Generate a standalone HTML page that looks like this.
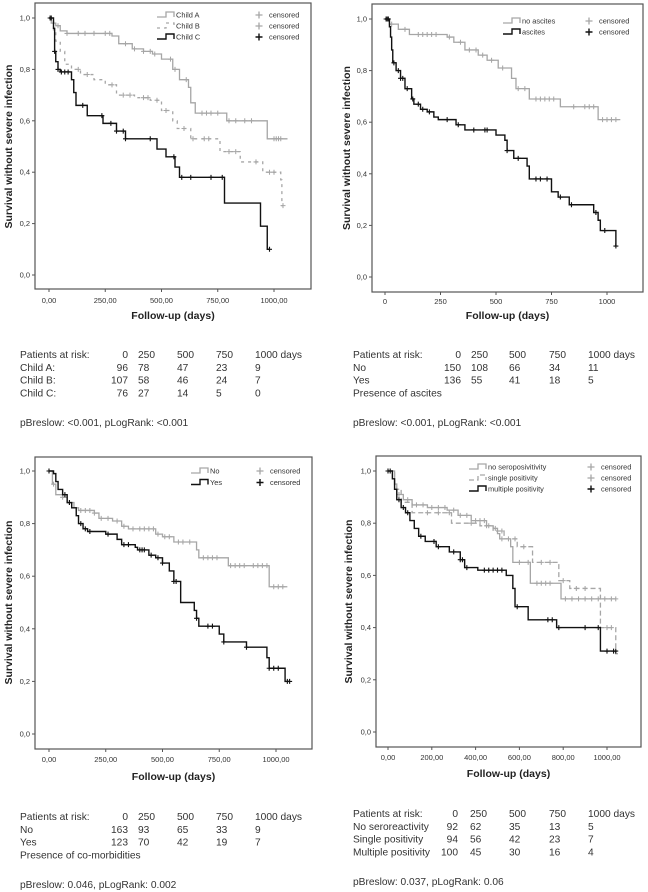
<!DOCTYPE html>
<html><head><meta charset="utf-8"><style>
body{margin:0;background:#fff;width:648px;height:892px;overflow:hidden}
svg{display:block;font-family:"Liberation Sans",Arial,sans-serif}
.tk{font-size:7.5px;fill:#333}
.yt{font-size:10.5px;font-weight:bold;fill:#222}
.xt{font-size:10.5px;font-weight:bold;fill:#222}
.lg{font-size:7.4px;fill:#333}
.tb{font-size:10.2px;fill:#333}
</style></head><body>
<svg id="c" width="648" height="892" viewBox="0 0 648 892"></svg>
<script>
// ---- Panel 1: Child-Pugh ----
const p1A_t=[0,10,30,50,80,280,310,370,420,460,500,550,580,620,630,650,790,970];
const p1A_s=[1,0.98,0.97,0.95,0.94,0.93,0.90,0.88,0.87,0.86,0.84,0.80,0.76,0.73,0.67,0.63,0.60,0.53];
const p1A_c=[40,80,130,160,200,250,270,340,380,420,450,470,540,560,610,680,700,720,750,800,830,870,900,1000,1010,1020,1030];
const p1A_end=1060;
const p1B_t=[0,20,30,50,70,100,140,200,250,300,380,450,500,550,570,630,760,850,950,1030,1035];
const p1B_s=[1,0.95,0.91,0.87,0.82,0.80,0.78,0.76,0.74,0.70,0.69,0.68,0.64,0.60,0.57,0.53,0.48,0.44,0.40,0.37,0.27];
const p1B_c=[130,170,280,330,360,420,440,480,520,600,640,690,710,800,830,920,980,1000,1040];
const p1B_end=1040;
const p1C_t=[0,20,25,30,40,50,100,110,120,170,240,300,340,480,520,560,580,780,940,970];
const p1C_s=[1,0.96,0.87,0.83,0.80,0.79,0.76,0.71,0.66,0.62,0.59,0.56,0.53,0.49,0.46,0.42,0.38,0.28,0.19,0.10];
const p1C_c=[5,10,25,40,55,70,85,150,235,275,300,330,340,450,555,590,630,720,770,980];
const p1C_end=980;
// ---- Panel 2: ascites ----
const p2A_t=[0,20,60,110,280,310,360,420,460,510,570,590,650,790,960];
const p2A_s=[1,0.98,0.96,0.94,0.93,0.91,0.88,0.86,0.84,0.81,0.77,0.73,0.69,0.66,0.61];
const p2A_c=[30,90,150,170,190,210,230,290,340,380,410,440,480,530,600,630,680,700,720,740,760,850,900,920,940,980,1000,1020,1040];
const p2A_end=1060;
const p2B_t=[0,20,25,30,35,50,70,90,120,130,160,190,220,240,320,360,500,540,550,580,640,650,750,780,830,940,960,970,1040];
const p2B_s=[1,0.97,0.93,0.88,0.83,0.80,0.77,0.73,0.69,0.67,0.65,0.64,0.62,0.61,0.59,0.57,0.55,0.53,0.49,0.46,0.43,0.38,0.33,0.31,0.28,0.25,0.22,0.18,0.12];
const p2B_c=[5,10,15,40,60,70,80,100,125,150,170,200,280,330,400,450,460,550,600,680,700,730,790,840,950,990,1040];
const p2B_end=1040;
// ---- Panel 3: co-morbidities ----
const p3A_t=[0,15,30,60,80,110,130,200,220,280,320,350,470,500,550,650,660,790,970];
const p3A_s=[1,0.95,0.91,0.90,0.88,0.86,0.85,0.84,0.82,0.81,0.79,0.78,0.76,0.75,0.73,0.70,0.67,0.64,0.56];
const p3A_c=[20,60,90,140,160,180,200,230,260,300,330,370,400,420,440,460,480,510,530,570,590,620,680,700,720,740,800,820,840,860,900,920,940,960,990,1010,1030];
const p3A_end=1050;
const p3B_t=[0,20,30,40,60,80,100,120,130,150,170,250,300,320,380,390,440,470,500,530,550,580,640,650,660,750,770,870,960,970,1040];
const p3B_s=[1,0.99,0.96,0.93,0.91,0.88,0.86,0.83,0.80,0.78,0.77,0.76,0.74,0.72,0.71,0.70,0.68,0.67,0.65,0.62,0.58,0.50,0.47,0.44,0.41,0.38,0.35,0.33,0.29,0.25,0.20];
const p3B_c=[0,70,90,140,160,180,260,330,350,400,410,420,450,480,500,550,560,650,700,720,770,870,970,990,1010,1050,1060];
const p3B_end=1060;
// ---- Panel 4: seropositivity ----
const p4A_t=[0,30,40,70,110,180,270,320,380,450,480,500,510,560,570,650,790];
const p4A_s=[1,0.95,0.91,0.89,0.87,0.86,0.85,0.83,0.81,0.79,0.78,0.76,0.74,0.71,0.65,0.57,0.51];
const p4A_c=[50,90,130,160,200,230,260,300,330,360,400,420,440,460,490,520,550,600,640,680,700,720,740,810,840,870,900,930,960,990,1020,1040];
const p4A_end=1040;
const p4B_t=[0,30,60,110,290,420,480,530,590,660,780,830,970,1040];
const p4B_s=[1,0.93,0.88,0.84,0.80,0.79,0.77,0.74,0.71,0.65,0.58,0.55,0.40,0.30];
const p4B_c=[40,180,230,280,380,450,520,580,620,700,740,800,860,900,1000,1020];
const p4B_end=1050;
const p4C_t=[0,20,30,40,60,80,100,120,140,170,220,280,330,350,410,540,570,580,640,770,970];
const p4C_s=[1,0.97,0.93,0.89,0.86,0.84,0.81,0.78,0.75,0.73,0.71,0.69,0.66,0.63,0.62,0.60,0.55,0.48,0.43,0.40,0.31];
const p4C_c=[0,10,50,70,90,150,210,230,300,330,340,360,440,460,480,500,520,590,730,750,780,900,960,1000,1030,1040];
const p4C_end=1045;

const NS='http://www.w3.org/2000/svg';
const svg=document.getElementById('c');
function mk(tag,attrs,parent,text){const e=document.createElementNS(NS,tag);for(const k in attrs)e.setAttribute(k,attrs[k]);if(text!=null)e.textContent=text;(parent||svg).appendChild(e);return e;}

function panel(cfg){
  const g=mk('g',{},svg);
  
  
  const X=t=>cfg.x0+(cfg.x1-cfg.x0)*t/1000, Y=s=>cfg.y0+(cfg.y1-cfg.y0)*(1-s);
  const box=mk('rect',{x:cfg.bx,y:cfg.by,width:cfg.bw,height:cfg.bh,fill:'none',stroke:'#555','stroke-width':1.2},g);
  
  
  [0,0.2,0.4,0.6,0.8,1].forEach(v=>{
    mk('line',{x1:cfg.bx-3,x2:cfg.bx,y1:Y(v),y2:Y(v),stroke:'#555'},g);
    const t=mk('text',{x:cfg.bx-5,y:Y(v)+2.5,'text-anchor':'end',class:'tk'},g,v.toFixed(1).replace('.',','));
    
    
  });
  cfg.xt.forEach((lab,i)=>{
    const v=i*cfg.step;
    mk('line',{x1:X(v),x2:X(v),y1:cfg.by+cfg.bh,y2:cfg.by+cfg.bh+3,stroke:'#555'},g);
    const t=mk('text',{x:X(v),y:cfg.tly,'text-anchor':'middle',class:'tk'},g,lab);
    
    
  });
  const yt=mk('text',{x:0,y:0,'text-anchor':'middle',class:'yt',transform:`translate(${cfg.ytx},${(cfg.y0+cfg.y1)/2}) rotate(-90)`},g,'Survival without severe infection');
  
  
  const xt=mk('text',{x:(cfg.bx+cfg.bx+cfg.bw)/2,y:cfg.xty,'text-anchor':'middle',class:'xt'},g,'Follow-up (days)');
  
  
  cfg.series.forEach((s,si)=>{
    let d=`M${X(s.t[0])},${Y(s.s[0])}`;
    for(let i=1;i<s.t.length;i++){d+=`H${X(s.t[i])}V${Y(s.s[i])}`;}
    d+=`H${X(s.end)}`;
    const p=mk('path',{d:d,fill:'none',stroke:s.col,'stroke-width':s.w,'stroke-dasharray':s.dash||'none'},g);
    
    
    s.c.forEach(ct=>{
      let k=0;for(let i=0;i<s.t.length;i++)if(s.t[i]<=ct)k=i;
      const cx=X(ct),cy=Y(s.s[k]);
      const m=mk('path',{d:`M${cx-2.5},${cy}H${cx+2.5}M${cx},${cy-2.5}V${cy+2.5}`,stroke:s.col,'stroke-width':s.w*0.8},g);
      
      
    });
    const ly=cfg.ly+si*cfg.lgap;
    const lp=mk('path',{d:`M${cfg.lx},${ly+2}H${cfg.lx+9}V${ly-3}H${cfg.lx+17}V${ly+2}`,fill:'none',stroke:s.col,'stroke-width':s.w,'stroke-dasharray':s.dash||'none'},g);
    
    
    const lt=mk('text',{x:cfg.lx+19,y:ly+2.5,class:'lg'},g,s.label);
    
    
    mk('path',{d:`M${cfg.cx-3.5},${ly}H${cfg.cx+3.5}M${cfg.cx},${ly-3.5}V${ly+3.5}`,stroke:s.col,'stroke-width':s.w},g);
    const ct=mk('text',{x:cfg.cx+10,y:ly+2.5,class:'lg'},g,'censored');
    
    
  });
  cfg.rows.forEach((r,ri)=>{
    const y=cfg.ty+ri*12.8;
    const lab=mk('text',{x:cfg.tx,y:y,class:'tb'},g,r[0]);
    
    
    for(let j=1;j<r.length;j++){
      const col=cfg.cols[j-1];
      const t=mk('text',{x:col[0],y:y,class:'tb','text-anchor':col[1]},g,r[j]);
      
      
    }
  });
  if(cfg.note){const n=mk('text',{x:cfg.tx,y:cfg.ty+cfg.rows.length*12.8,class:'tb'},g,cfg.note);}
  const pv=mk('text',{x:cfg.tx,y:cfg.py,class:'tb'},g,cfg.p);
  
  
}
const G='#a6a6a6',B='#111';
const L0=['0,00','250,00','500,00','750,00','1000,00'];
panel({name:'panel-child-pugh',bx:35,by:3,bw:276,bh:286,x0:49,x1:274,y0:18,y1:275,step:250,xt:L0,tly:303,xty:319,ytx:12,
 lx:157,ly:15,lgap:11,cx:259,tx:20,ty:358,py:426,
 cols:[[128,'end'],[138,'start'],[177,'start'],[216,'start'],[255,'start']],
 rows:[['Patients at risk:','0','250','500','750','1000 days'],['Child A:','96','78','47','23','9'],['Child B:','107','58','46','24','7'],['Child C:','76','27','14','5','0']],
 p:'pBreslow: <0.001, pLogRank: <0.001',
 series:[{key:'child-a',label:'Child A',t:p1A_t,s:p1A_s,c:p1A_c,end:p1A_end,col:G,w:1.3},
 {key:'child-b',label:'Child B',t:p1B_t,s:p1B_s,c:p1B_c,end:p1B_end,col:G,w:1.3,dash:'3,4'},
 {key:'child-c',label:'Child C',t:p1C_t,s:p1C_s,c:p1C_c,end:p1C_end,col:B,w:1.4}]});
panel({name:'panel-ascites',bx:372,by:4,bw:271,bh:288,x0:385,x1:607,y0:19,y1:277,step:250,xt:['0','250','500','750','1000'],tly:304,xty:319,ytx:350,
 lx:503,ly:21,lgap:11,cx:589,tx:353,ty:358,py:426,
 cols:[[461,'end'],[471,'start'],[509,'start'],[549,'start'],[588,'start']],
 rows:[['Patients at risk:','0','250','500','750','1000 days'],['No','150','108','66','34','11'],['Yes','136','55','41','18','5']],
 note:'Presence of ascites',p:'pBreslow: <0.001, pLogRank: <0.001',
 series:[{key:'no-ascites',label:'no ascites',t:p2A_t,s:p2A_s,c:p2A_c,end:p2A_end,col:G,w:1.3},
 {key:'ascites',label:'ascites',t:p2B_t,s:p2B_s,c:p2B_c,end:p2B_end,col:B,w:1.4}]});
panel({name:'panel-comorbidities',bx:35,by:457,bw:277,bh:292,x0:49,x1:276,y0:471,y1:734,step:250,xt:L0,tly:762,xty:780,ytx:12,
 lx:191,ly:471,lgap:11.5,cx:260,tx:20,ty:820,py:888,
 cols:[[128,'end'],[138,'start'],[177,'start'],[216,'start'],[255,'start']],
 rows:[['Patients at risk:','0','250','500','750','1000 days'],['No','163','93','65','33','9'],['Yes','123','70','42','19','7']],
 note:'Presence of co-morbidities',p:'pBreslow: 0.046, pLogRank: 0.002',
 series:[{key:'no',label:'No',t:p3A_t,s:p3A_s,c:p3A_c,end:p3A_end,col:G,w:1.3},
 {key:'yes',label:'Yes',t:p3B_t,s:p3B_s,c:p3B_c,end:p3B_end,col:B,w:1.4}]});
panel({name:'panel-seropositivity',bx:376,by:456,bw:265,bh:291,x0:388,x1:607,y0:471,y1:732,step:200,xt:['0,00','200,00','400,00','600,00','800,00','1000,00'],tly:760,xty:777,ytx:352,
 lx:469,ly:467,lgap:11,cx:591,tx:353,ty:817,py:885,
 cols:[[458,'end'],[470,'start'],[509,'start'],[549,'start'],[588,'start']],
 rows:[['Patients at risk:','0','250','500','750','1000 days'],['No seroreactivity','92','62','35','13','5'],['Single positivity','94','56','42','23','7'],['Multiple positivity','100','45','30','16','4']],
 p:'pBreslow: 0.037, pLogRank: 0.06',
 series:[{key:'no-seropositivity',label:'no seroposivitivity',t:p4A_t,s:p4A_s,c:p4A_c,end:p4A_end,col:G,w:1.3},
 {key:'single-positivity',label:'single positivity',t:p4B_t,s:p4B_s,c:p4B_c,end:p4B_end,col:G,w:1.3,dash:'5,3'},
 {key:'multiple-positivity',label:'multiple positivity',t:p4C_t,s:p4C_s,c:p4C_c,end:p4C_end,col:B,w:1.4}]});
</script>
</body></html>
